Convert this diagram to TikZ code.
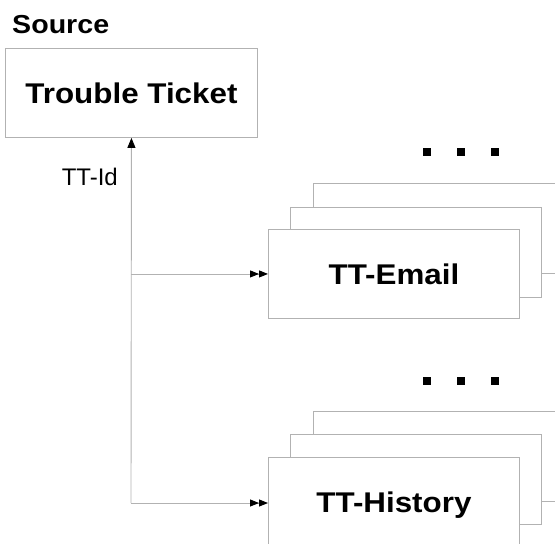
\documentclass[tikz,border=0pt]{standalone}
\usepackage{fontspec}
\setmainfont{Liberation Sans}
\newfontfamily\headfont[FakeStretch=1.1]{Liberation Sans Bold}
\usetikzlibrary{arrows.meta}
\definecolor{edgegray}{RGB}{178,178,178}
\tikzset{
  x=1pt, y=-1pt,
  box/.style={draw=edgegray, line width=0.9pt, fill=white, rectangle,
    minimum width=251pt, minimum height=90pt, inner sep=0pt, anchor=north west,
    font=\headfont\fontsize{28.5}{30}\selectfont},
  link/.style={draw=edgegray, line width=0.9pt},
  uptip/.style={-{Triangle[length=10pt,width=8pt,color=black]}},
  dbltip/.style={-{Triangle[length=9pt,width=7pt,color=black]Triangle[length=9pt,width=7pt,color=black]}},
  dot/.style={fill=black, minimum size=8pt, inner sep=0pt, rectangle},
}
\begin{document}
\begin{tikzpicture}
\useasboundingbox (0,0) rectangle (555,544);
\clip (0,0) rectangle (555,544);

% heading
\node[anchor=base west, inner sep=0pt, font=\headfont\fontsize{26}{28}\selectfont] (src) at (12,33) {Source};

% source table
\node[box, minimum width=252pt, minimum height=89pt] (tt) at (5,48) {Trouble Ticket};

% TT-Email stack
\node[box] (email3) at (313,183) {};
\node[box] (email2) at (290,207) {};
\node[box, minimum height=89pt] (email) at (268,229) {TT-Email};

% TT-History stack (front box runs past the lower edge)
\node[box] (hist3) at (313,411) {};
\node[box] (hist2) at (290,434) {};
\node[box, minimum height=96pt] (hist) at (268,457) {TT-History};

% ellipsis marks
\node[dot] (d1) at (427,152) {};
\node[dot] (d2) at (461,152) {};
\node[dot] (d3) at (495,152) {};
\node[dot] (d4) at (427,381) {};
\node[dot] (d5) at (461,381) {};
\node[dot] (d6) at (495,381) {};

% key connectors
\coordinate (jEmail) at (tt.south |- email.west);
\coordinate (jHist) at (131,503);
\draw[link, uptip] (jHist) -- (tt.south);
\draw[link, dbltip] (jEmail) -- (jEmail -| email.west);
\draw[link, dbltip] (jHist) -- (jHist -| hist.west);

\node[anchor=base east, inner sep=0pt, font=\fontsize{24}{26}\selectfont] (ttid) at (118,185) {TT-Id};
\end{tikzpicture}
\end{document}
